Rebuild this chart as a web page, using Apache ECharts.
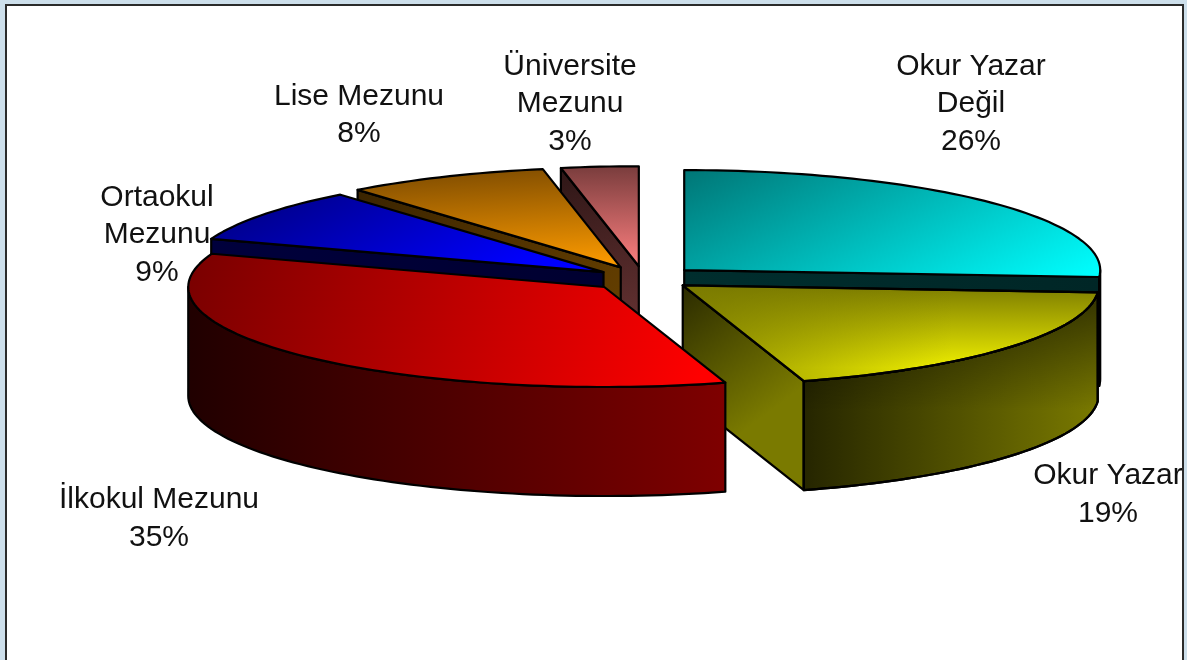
<!DOCTYPE html>
<html>
<head>
<meta charset="utf-8">
<style>
  html, body { margin: 0; padding: 0; background: #cddfeb; }
  #chart { width: 1187px; height: 660px; }
</style>
<script src="https://cdn.jsdelivr.net/npm/echarts@6/dist/echarts.min.js"></script>
</head>
<body>
<div id="chart"></div>
<script>
const categories = ['Okur Yazar\nDeğil', 'Okur Yazar', 'İlkokul Mezunu', 'Ortaokul\nMezunu', 'Lise Mezunu', 'Üniversite\nMezunu']
const values = [26.1, 19.2, 35.1, 8.7, 7.9, 3.0]

// pie projection, the same role as center/radius on a normal pie
const center = [644, 278.5]
const radius = [416, 100]
const explode = [55, 12.3]
const explodeScale = [1, 0.9, 1, 0.9, 1, 1]
const depth = 109
const lineHeight = 37.5
const labelPos = [[971, 66.5], [1108, 476], [159, 500], [157, 197.5], [359, 96.5], [570, 66.5]]
const paintOrder = [5, 4, 3, 0, 1, 2]

const topColors = [['#007575', '#00ffff'], ['#7a7a00', '#eeee00'], ['#780000', '#ff0000'], ['#000078', '#0000ff'], ['#784800', '#ff9c00'], ['#783c3c', '#ff8080']]
const topVectors = [[0, 0, 0.3, 2.3], [0, 0, 0, 0.85], [0, 0, 0.95, 1], [0, 0, 0.23, 2.3], [0, 0, 0.025, 1.13], [0, 0, 0, 1]]
const outerColors = [['#000000', '#000000'], ['#252500', '#7a7a00'], ['#200000', '#7f0000'], ['#000', '#000'], ['#000', '#000'], ['#000', '#000']]
const outerShade = [0, 0.6, 0, 0, 0, 0]
const faceColors = [['#002e2e', '#002626'], ['#2a2a00', '#7a7a00'], ['#000', '#000'], ['#00003c', '#000030'], ['#3a2400', '#6a4200'], ['#2e1616', '#703838']]
const faceVectors = [[0, 0, 1, 0], [0, 0, 0.75, 0.6], [0, 0, 1, 0], [0, 0, 1, 0], [0, 0, 1, 1], [0, 0, 0.6, 1]]

const total = values.reduce((a, b) => a + b, 0)

function ellipsePoint(apex, deg, drop) {
  const r = deg * Math.PI / 180
  return [apex[0] + radius[0] * Math.sin(r), apex[1] - radius[1] * Math.cos(r) + drop]
}

function arc(apex, from, to, drop) {
  const pts = []
  const n = Math.max(1, Math.ceil(Math.abs(to - from) / 1.5))
  for (let k = 0; k <= n; k++) pts.push(ellipsePoint(apex, from + (to - from) * k / n, drop))
  return pts
}

function gradient(vec, cols) {
  return new echarts.graphic.LinearGradient(vec[0], vec[1], vec[2], vec[3], [
    { offset: 0, color: cols[0] },
    { offset: 1, color: cols[1] }
  ])
}

function poly(points, fill) {
  return {
    type: 'polygon',
    shape: { points },
    style: { fill, stroke: '#000', lineWidth: 2.2, lineJoin: 'round' }
  }
}

function sliceGroup(i) {
  const from = values.slice(0, i).reduce((a, b) => a + b, 0) / total * 360
  const to = from + values[i] / total * 360
  const mid = (from + to) / 2 * Math.PI / 180
  const e = explodeScale[i]
  const apex = [center[0] + e * explode[0] * Math.sin(mid), center[1] - e * explode[1] * Math.cos(mid)]
  const low = [apex[0], apex[1] + depth]
  const children = []

  // radial wall, only when it turns towards the viewer
  if (from > 180 && from < 360) {
    children.push(poly([apex, ellipsePoint(apex, from, 0), ellipsePoint(apex, from, depth), low], gradient(faceVectors[i], faceColors[i])))
  }
  if (to > 0 && to < 180) {
    children.push(poly([apex, ellipsePoint(apex, to, 0), ellipsePoint(apex, to, depth), low], gradient(faceVectors[i], faceColors[i])))
  }
  // outer wall, front half of the ellipse only
  const a = Math.max(from, 90)
  const b = Math.min(to, 270)
  if (a < b) {
    const outer = arc(apex, a, b, 0).concat(arc(apex, b, a, depth))
    children.push(poly(outer, gradient([0, 0, 1, 0], outerColors[i])))
    if (outerShade[i]) {
      children.push(poly(outer, gradient([0, 0, 0, 0.6], ['rgba(0,0,0,' + outerShade[i] + ')', 'rgba(0,0,0,0)'])))
    }
  }
  // top
  const top = [apex].concat(arc(apex, from, to, 0))
  children.push(poly(top, gradient(topVectors[i], topColors[i])))
  // yellow top fades out towards its left corner
  if (i === 1) children.push(poly(top, gradient([0, 0, 0.65, 0], ['rgba(122,122,0,0.8)', 'rgba(122,122,0,0)'])))
  return { type: 'group', children }
}

const chart = echarts.init(document.getElementById('chart'), null, { renderer: 'canvas' })
chart.setOption({
  animation: false,
  backgroundColor: '#cddfeb',
  graphic: [
    { type: 'rect', z: 0, shape: { x: 6, y: 5, width: 1177, height: 670 }, style: { fill: '#fff', stroke: '#2b2b2b', lineWidth: 2 } },
    { type: 'rect', z: 20, shape: { x: 1184, y: 0, width: 3, height: 660 }, style: { fill: '#cddfeb' } },
    { type: 'line', z: 20, shape: { x1: 1183, y1: 4, x2: 1183, y2: 660 }, style: { stroke: '#2b2b2b', lineWidth: 2 } }
  ],
  series: [
    {
      type: 'custom',
      coordinateSystem: 'none',
      z: 5,
      data: paintOrder.map(i => [i, values[i]]),
      renderItem: (params, api) => sliceGroup(api.value(0))
    },
    {
      type: 'custom',
      coordinateSystem: 'none',
      z: 6,
      data: values.map((v, i) => [i, v]),
      renderItem: (params, api) => {
        const i = api.value(0)
        return {
          type: 'text',
          x: labelPos[i][0],
          y: labelPos[i][1] - lineHeight / 2,
          style: {
            text: categories[i] + '\n' + Math.round(api.value(1) / total * 100) + '%',
            fill: '#111',
            font: '30px "Liberation Sans", Arial, sans-serif',
            lineHeight,
            align: 'center',
            verticalAlign: 'top'
          }
        }
      }
    }
  ]
})
</script>
</body>
</html>
